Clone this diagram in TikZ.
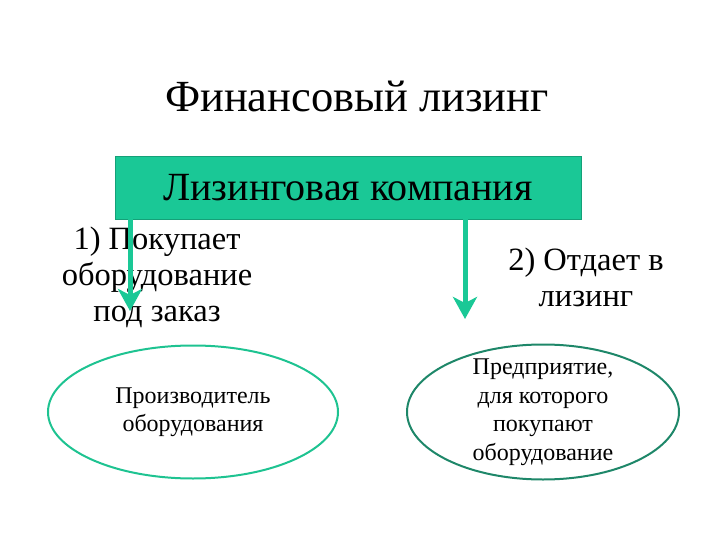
\documentclass[tikz,border=0pt]{standalone}
\usepackage{fontspec}
\setmainfont{Liberation Serif}
\usetikzlibrary{arrows.meta, shapes.geometric}
\definecolor{tealfill}{RGB}{26,200,150}
\definecolor{ovalA}{RGB}{30,195,145}
\definecolor{ovalB}{RGB}{30,135,105}
\tikzset{
	arr/.style={line width=5pt, color=tealfill, -{Stealth[length=22pt, width=24pt, inset=6pt]}},
	oval/.style={ellipse, line width=2pt},
	ovaltxt/.style={align=center, font=\fontsize{24}{28.5}\selectfont},
	lbl/.style={align=center, font=\fontsize{32.5}{36}\selectfont}
}

\begin{document}
\begin{tikzpicture}[x=1pt, y=-1pt]
		\useasboundingbox (0,0) rectangle (720,540);
		\node[font=\fontsize{44.5}{50}\selectfont] (title) at (357,96) {Финансовый лизинг};
		\node[draw=tealfill!80!black, fill=tealfill, minimum width=466pt, minimum height=63pt, font=\fontsize{40}{46}\selectfont] (firm) at (348,187.5) {Лизинговая компания};
		\node[lbl] (buy) at (157,277) {1) Покупает\\оборудование\\под заказ};
		\node[lbl] (lease) at (586,277) {2) Отдает в\\лизинг};
		% ovals
		\node[oval, draw=ovalA, minimum width=290pt, minimum height=133pt] (maker) at (193,412) {};
		\node[ovaltxt] (makertxt) at (maker.center) {Производитель\\оборудования};
		\node[oval, draw=ovalB, minimum width=272pt, minimum height=135pt] (client) at (543,412) {};
		\node[ovaltxt] (clienttxt) at (client.center) {Предприятие,\\для которого\\покупают\\оборудование};
		\coordinate (tipL) at (130,311);
		\coordinate (tipR) at (465,319);
		\draw[arr] (firm.south -| tipL) -- (tipL);
		\draw[arr] (firm.south -| tipR) -- (tipR);
	\end{tikzpicture}
\end{document}
